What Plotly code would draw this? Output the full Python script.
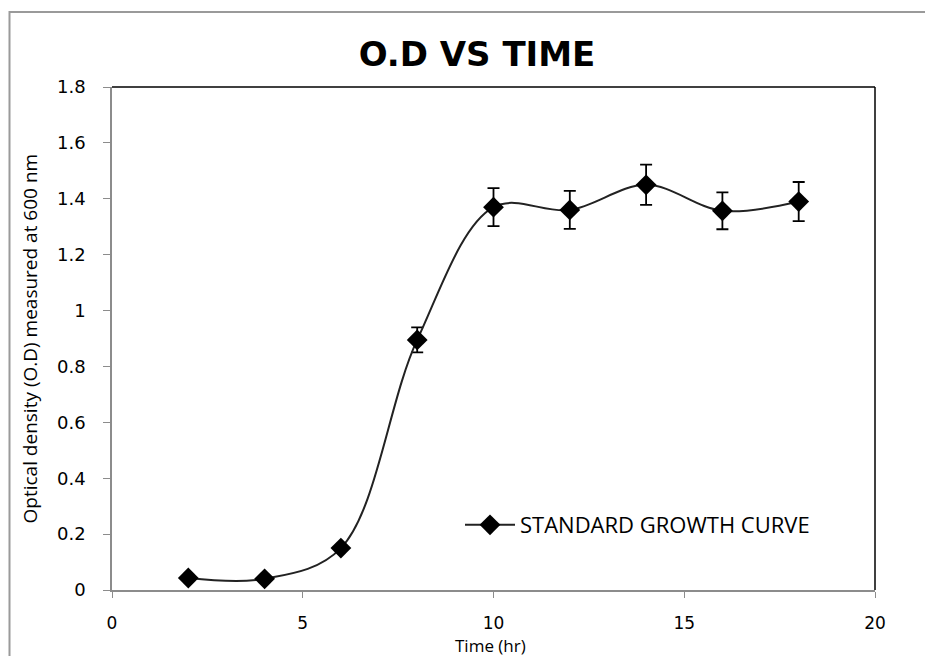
import plotly.graph_objects as go

time_hr = [2, 4, 6, 8, 10, 12, 14, 16, 18]
od600 = [0.043, 0.040, 0.150, 0.895, 1.370, 1.360, 1.450, 1.357, 1.390]
od_err = [0.004, 0.004, 0.005, 0.045, 0.068, 0.068, 0.072, 0.066, 0.070]

x_ticks = [0, 5, 10, 15, 20]
y_ticks = [0, 0.2, 0.4, 0.6, 0.8, 1, 1.2, 1.4, 1.6, 1.8]
y_tick_labels = ["0", "0.2", "0.4", "0.6", "0.8", "1", "1.2", "1.4", "1.6", "1.8"]

# page has an 8px body margin; plot area target on screen: x 112..875, y 87..590
L, T, R, B = 104, 79, 66, 74
PW, PH = 933 - L - R, 656 - T - B

fig = go.Figure()
fig.add_trace(go.Scatter(
    x=time_hr, y=od600,
    mode="lines+markers",
    name="STANDARD GROWTH CURVE",
    line=dict(color="#222222", width=2, shape="spline", smoothing=1.0),
    marker=dict(symbol="diamond", size=16, color="black"),
    error_y=dict(type="data", array=od_err, visible=True, color="black", thickness=1.8, width=6),
))

fig.update_layout(
    width=933, height=656,
    paper_bgcolor="white", plot_bgcolor="white",
    margin=dict(l=L, r=R, t=T, b=B, autoexpand=False),
    title=dict(text="<b>O.D VS TIME</b>", x=469 / 933, xanchor="center", xref="container",
               y=1 - 46 / 656, yanchor="middle", yref="container",
               font=dict(family="DejaVu Sans", size=34, color="black")),
    showlegend=True,
    legend=dict(x=(452 - L) / PW, y=(T + PH - 517) / PH, xanchor="left", yanchor="middle",
                bgcolor="rgba(0,0,0,0)",
                font=dict(family="Open Sans", size=22, color="black"), itemwidth=50),
    xaxis=dict(range=[0, 20], tickvals=x_ticks, showgrid=False, zeroline=False, automargin=False,
               showline=True, linecolor="#8c8c8c", linewidth=1.5,
               ticks="outside", ticklen=6, tickcolor="#8c8c8c", ticklabelstandoff=11,
               tickfont=dict(family="DejaVu Sans", size=17, color="black")),
    yaxis=dict(range=[0, 1.8], tickvals=y_ticks, ticktext=y_tick_labels, showgrid=False, zeroline=False,
               automargin=False,
               showline=True, linecolor="#8c8c8c", linewidth=1.5,
               ticks="outside", ticklen=7, tickcolor="#8c8c8c", ticklabelstandoff=14,
               tickfont=dict(family="DejaVu Sans", size=18, color="black")),
    annotations=[
        dict(text="Time (hr)", xref="paper", yref="paper", x=(482 - L) / PW, y=(T + PH - 637) / PH,
             xanchor="center", yanchor="middle", showarrow=False,
             font=dict(family="Open Sans", size=17, color="black")),
        dict(text="Optical density (O.D) measured at 600 nm", xref="paper", yref="paper",
             x=(21 - L) / PW, y=0.5, xanchor="center", yanchor="middle", showarrow=False,
             textangle=-90, font=dict(family="Open Sans", size=19, color="black")),
    ],
    shapes=[
        dict(type="line", xref="paper", yref="paper", x0=0, x1=1, y0=1, y1=1, line=dict(color="black", width=1.5)),
        dict(type="line", xref="paper", yref="paper", x0=1, x1=1, y0=0, y1=1, line=dict(color="black", width=1.5)),
        dict(type="rect", xref="paper", yref="paper",
             x0=(1.5 - L) / PW, x1=1.2, y0=-0.3, y1=(T + PH - 4) / PH,
             line=dict(color="#9a9a9a", width=2), layer="below"),
    ],
)

fig.write_html("out.html")
